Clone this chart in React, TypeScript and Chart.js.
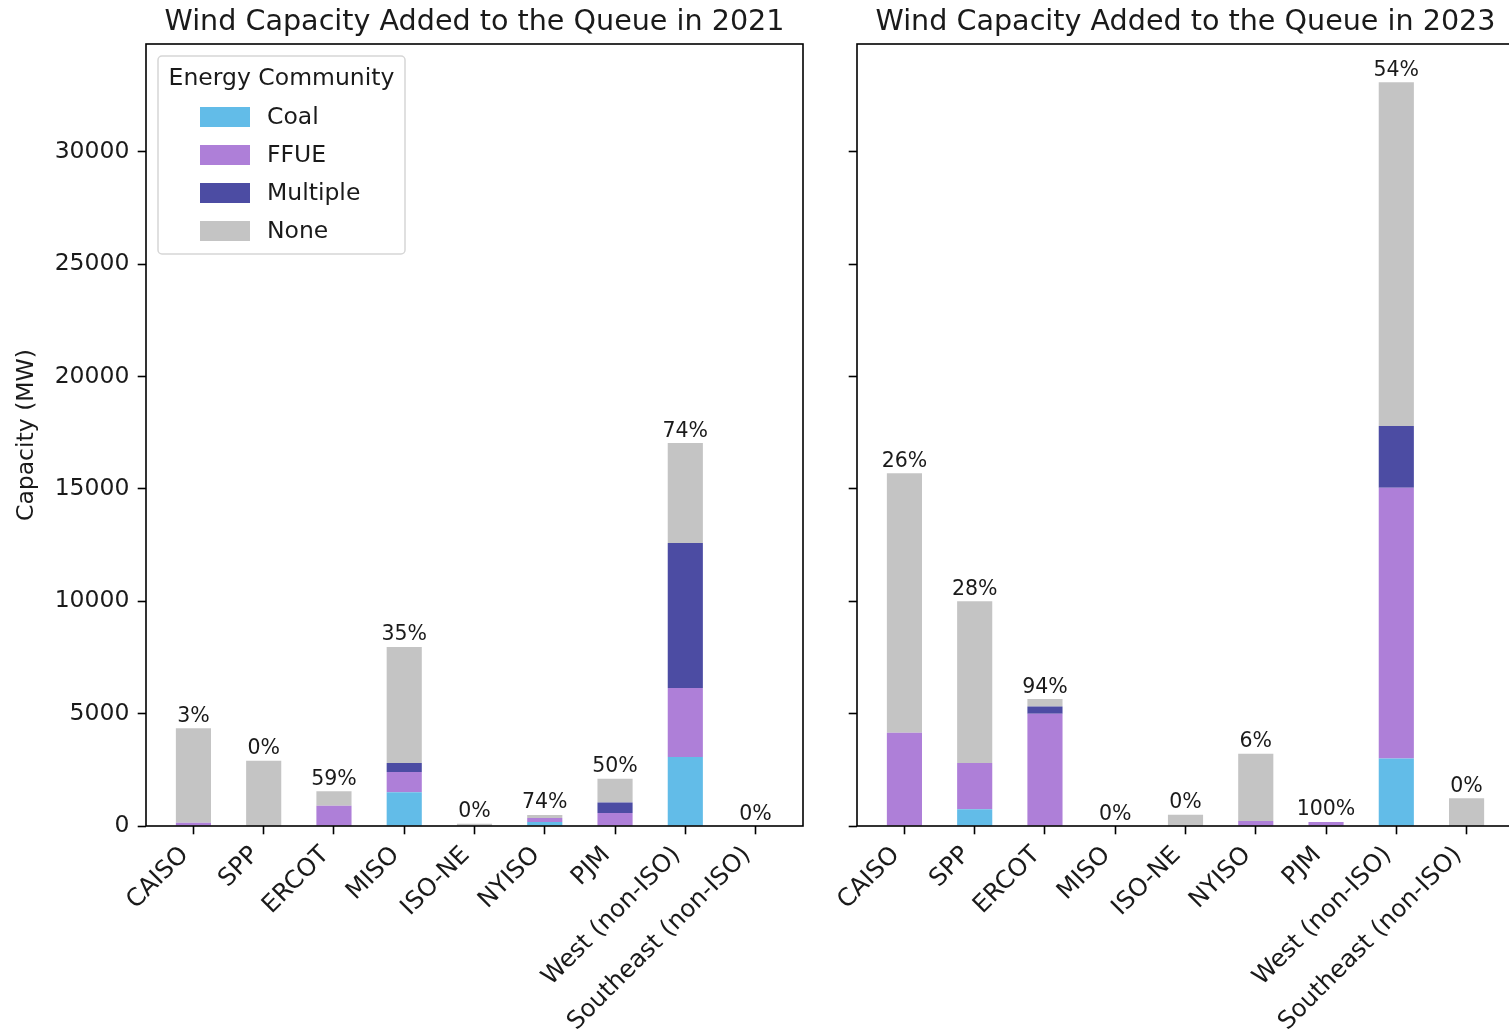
import React, { useEffect, useRef } from "react";
import { Chart, registerables } from "chart.js";

Chart.register(...registerables);

// ---------- data ----------
const regions = [
  "CAISO",
  "SPP",
  "ERCOT",
  "MISO",
  "ISO-NE",
  "NYISO",
  "PJM",
  "West (non-ISO)",
  "Southeast (non-ISO)",
];
const seriesNames = ["Coal", "FFUE", "Multiple", "None"];
const seriesColors = ["#62bce8", "#ae7fd8", "#4c4ca3", "#c4c4c4"];

const coal2021 = [0, 0, 0, 1500, 0, 180, 0, 3070, 0];
const ffue2021 = [150, 0, 900, 900, 0, 180, 580, 3070, 0];
const multiple2021 = [0, 0, 0, 400, 0, 0, 470, 6450, 0];
const none2021 = [4200, 2900, 650, 5170, 100, 130, 1050, 4450, 0];
const pct2021 = [3, 0, 59, 35, 0, 74, 50, 74, 0];

const coal2023 = [0, 750, 0, 0, 0, 0, 0, 3000, 0];
const ffue2023 = [4150, 2050, 5000, 0, 0, 220, 180, 12050, 0];
const multiple2023 = [0, 0, 320, 0, 0, 0, 0, 2750, 0];
const none2023 = [11550, 7200, 330, 0, 500, 3000, 0, 15300, 1230];
const pct2023 = [26, 28, 94, 0, 0, 6, 100, 54, 0];

const yTicks = [0, 5000, 10000, 15000, 20000, 25000, 30000];
const yMax = 34800;

const title2021 = "Wind Capacity Added to the Queue in 2021";
const title2023 = "Wind Capacity Added to the Queue in 2023";
const yTitle = "Capacity (MW)";
const legendTitle = "Energy Community";

// ---------- styling ----------
const FONT = "'DejaVu Sans', 'Liberation Sans', sans-serif";
const TEXT = "#1a1a1a";
const TICK_SIZE = 23.5;
const XLABEL_SIZE = 24.5;
const TITLE_SIZE = 28.6;
const PCT_SIZE = 20.5;
const TICK_LEN = 8.3;
const TICK_PAD = 8.3;

const framePlugin = {
  id: "frame",
  afterDatasetsDraw(chart: any) {
    const { ctx, chartArea: a } = chart;
    ctx.save();
    ctx.strokeStyle = "#000";
    ctx.lineWidth = 1.6;
    ctx.strokeRect(a.left, a.top, a.right - a.left, a.bottom - a.top);
    ctx.restore();
  },
};

const panelTitlePlugin = {
  id: "panelTitle",
  afterDraw(chart: any, _args: any, opts: any) {
    const { ctx, chartArea: a } = chart;
    ctx.save();
    ctx.font = `${TITLE_SIZE}px ${FONT}`;
    ctx.fillStyle = TEXT;
    ctx.textAlign = "center";
    ctx.textBaseline = "alphabetic";
    ctx.fillText(opts.text, (a.left + a.right) / 2, a.top - 14.5);
    ctx.restore();
  },
};

// rotated category labels, anchored like rotation=45, ha="right"
const xLabelPlugin = {
  id: "xLabels",
  afterDraw(chart: any) {
    const { ctx, chartArea: a } = chart;
    const xs = chart.scales.x;
    const asc = 0.76 * XLABEL_SIZE;
    const desc = 0.236 * XLABEL_SIZE;
    const s = Math.SQRT1_2;
    ctx.save();
    ctx.font = `${XLABEL_SIZE}px ${FONT}`;
    ctx.fillStyle = TEXT;
    ctx.textAlign = "right";
    ctx.textBaseline = "alphabetic";
    regions.forEach((name, i) => {
      const x0 = xs.getPixelForValue(i);
      const y0 = a.bottom + TICK_LEN + TICK_PAD;
      ctx.save();
      ctx.translate(x0 - desc * s, y0 + asc * s);
      ctx.rotate(-Math.PI / 4);
      ctx.fillText(name, 0, 0);
      ctx.restore();
    });
    ctx.restore();
  },
};

const pctPlugin = {
  id: "pctLabels",
  afterDatasetsDraw(chart: any, _args: any, opts: any) {
    const { ctx } = chart;
    const xs = chart.scales.x;
    const ys = chart.scales.y;
    const sets = chart.data.datasets;
    ctx.save();
    ctx.font = `${PCT_SIZE}px ${FONT}`;
    ctx.fillStyle = TEXT;
    ctx.textAlign = "center";
    ctx.textBaseline = "alphabetic";
    regions.forEach((_, i) => {
      let total = 0;
      sets.forEach((d: any) => {
        const v = d.data[i].y;
        if (v) total += v;
      });
      const px = xs.getPixelForValue(i);
      const py = ys.getPixelForValue(total);
      ctx.fillText(`${opts.values[i]}%`, px, py - 6.5);
    });
    ctx.restore();
  },
};

const legendPlugin = {
  id: "boxLegend",
  afterDraw(chart: any, _args: any, opts: any) {
    if (!opts.show) return;
    const { ctx, chartArea: a } = chart;
    const bx = a.left + 12;
    const by = a.top + 12;
    const bw = 247;
    const bh = 198;
    ctx.save();
    ctx.beginPath();
    const r = 4;
    ctx.moveTo(bx + r, by);
    ctx.lineTo(bx + bw - r, by);
    ctx.arcTo(bx + bw, by, bx + bw, by + r, r);
    ctx.lineTo(bx + bw, by + bh - r);
    ctx.arcTo(bx + bw, by + bh, bx + bw - r, by + bh, r);
    ctx.lineTo(bx + r, by + bh);
    ctx.arcTo(bx, by + bh, bx, by + bh - r, r);
    ctx.lineTo(bx, by + r);
    ctx.arcTo(bx, by, bx + r, by, r);
    ctx.closePath();
    ctx.fillStyle = "rgba(255,255,255,0.8)";
    ctx.fill();
    ctx.strokeStyle = "#d6d6d6";
    ctx.lineWidth = 1.5;
    ctx.stroke();

    ctx.font = `${TICK_SIZE}px ${FONT}`;
    ctx.fillStyle = TEXT;
    ctx.textAlign = "center";
    ctx.textBaseline = "middle";
    ctx.fillText(opts.title, bx + bw / 2, by + 23);

    chart.data.datasets.forEach((d: any, k: number) => {
      const cy = by + 61 + k * 38;
      ctx.fillStyle = d.backgroundColor;
      ctx.fillRect(bx + 42, cy - 10, 50, 20);
      ctx.fillStyle = TEXT;
      ctx.textAlign = "left";
      ctx.fillText(d.label, bx + 109, cy + 1);
    });
    ctx.restore();
  },
};

function makeConfig(
  series: number[][],
  pct: number[],
  title: string,
  showY: boolean,
  showLegend: boolean,
  yWidth: number,
  padRight: number
): any {
  const datasets = series.map((arr, k) => ({
    label: seriesNames[k],
    backgroundColor: seriesColors[k],
    borderWidth: 0,
    categoryPercentage: 0.5,
    barPercentage: 1,
    data: regions.map((_, i) => ({ x: i, y: arr[i] === 0 ? null : arr[i] })),
  }));
  const tickFont = { family: FONT, size: TICK_SIZE };
  const grid = {
    drawOnChartArea: false,
    drawTicks: true,
    offset: false,
    tickLength: TICK_LEN,
    tickColor: "#000",
    tickWidth: 1.6,
    color: "#000",
  };
  return {
    type: "bar",
    data: { datasets },
    plugins: [framePlugin, panelTitlePlugin, pctPlugin, legendPlugin, xLabelPlugin],
    options: {
      responsive: false,
      animation: false,
      devicePixelRatio: 1,
      layout: { padding: { top: 44, left: 0, right: padRight, bottom: 0 } },
      plugins: {
        legend: { display: false },
        tooltip: { enabled: false },
        title: { display: false },
        panelTitle: { text: title },
        pctLabels: { values: pct },
        boxLegend: { show: showLegend, title: legendTitle },
      },
      scales: {
        x: {
          type: "linear",
          min: -0.675,
          max: 8.675,
          stacked: true,
          offset: false,
          afterBuildTicks: (s: any) => {
            s.ticks = regions.map((_, i) => ({ value: i }));
          },
          ticks: {
            display: false,
            autoSkip: false,
          },
          grid,
          border: { display: false },
          afterFit: (s: any) => {
            s.height = 208;
          },
        },
        y: {
          type: "linear",
          min: 0,
          max: yMax,
          stacked: true,
          afterBuildTicks: (s: any) => {
            s.ticks = yTicks.map((v) => ({ value: v }));
          },
          ticks: {
            display: showY,
            padding: TICK_PAD,
            font: tickFont,
            color: TEXT,
            callback: (v: any) => String(v),
          },
          title: {
            display: showY,
            text: yTitle,
            font: tickFont,
            color: TEXT,
            padding: { top: 13, bottom: 0 },
          },
          grid,
          border: { display: false },
          afterFit: (s: any) => {
            s.width = yWidth;
          },
        },
      },
    },
  };
}

function Panel(props: { left: number; width: number; config: any }) {
  const ref = useRef<HTMLCanvasElement | null>(null);
  useEffect(() => {
    if (!ref.current) return;
    const chart = new Chart(ref.current, props.config);
    return () => chart.destroy();
  }, []);
  return (
    <canvas
      ref={ref}
      width={props.width}
      height={1034}
      style={{
        position: "absolute",
        left: props.left,
        top: 0,
        width: props.width,
        height: 1034,
      }}
    />
  );
}

export default function App() {
  const cfg2021 = makeConfig(
    [coal2021, ffue2021, multiple2021, none2021],
    pct2021,
    title2021,
    true,
    true,
    146,
    27
  );
  const cfg2023 = makeConfig(
    [coal2023, ffue2023, multiple2023, none2023],
    pct2023,
    title2023,
    false,
    false,
    27,
    16
  );
  return (
    <div
      style={{
        position: "fixed",
        left: 0,
        top: 0,
        width: 1509,
        height: 1034,
        overflow: "hidden",
        background: "#fff",
      }}
    >
      <Panel left={0} width={830} config={cfg2021} />
      <Panel left={830} width={700} config={cfg2023} />
    </div>
  );
}
